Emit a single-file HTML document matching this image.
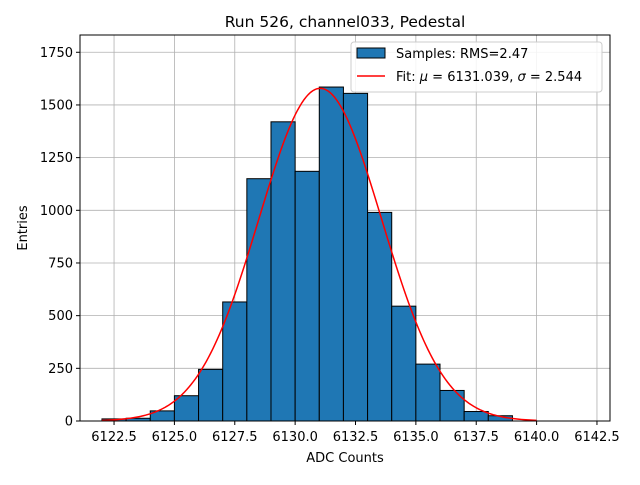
<!DOCTYPE html>
<html><head><meta charset="utf-8"><style>
body{margin:0;background:#fff;font-family:"Liberation Sans","DejaVu Sans",sans-serif}
svg text{font-family:"DejaVu Sans","Liberation Sans",sans-serif;font-size:13px;fill:#000}
</style></head><body>
<svg id="c" width="640" height="480"></svg>
<script>
const binStarts=[6122,6123,6124,6125,6126,6127,6128,6129,6130,6131,6132,6133,6134,6135,6136,6137,6138];
const counts=[10,13,48,120,245,565,1150,1420,1185,1585,1555,990,545,270,145,45,25];
const xTicks=[6122.5,6125.0,6127.5,6130.0,6132.5,6135.0,6137.5,6140.0,6142.5];
const yTicks=[0,250,500,750,1000,1250,1500,1750];
const fitMu=6131.039, fitSigma=2.544, fitAmp=1579;
const ns="http://www.w3.org/2000/svg";
const svg=document.getElementById('c');
const L=80,R=610,T=35,B=421;
const xMin=6121.09,xMax=6143.04,yMax=1832;
const X=v=>L+(v-xMin)/(xMax-xMin)*(R-L);
const Y=v=>B-v/yMax*(B-T);
function el(t,a,p){const e=document.createElementNS(ns,t);for(const k in a)e.setAttribute(k,a[k]);(p||svg).appendChild(e);return e;}
const grid=el('g',{});


xTicks.forEach(t=>{el('line',{x1:X(t),x2:X(t),y1:T,y2:B,stroke:'#b0b0b0','stroke-width':0.8},grid);});
yTicks.forEach(t=>{el('line',{x1:L,x2:R,y1:Y(t),y2:Y(t),stroke:'#b0b0b0','stroke-width':0.8},grid);});
const bars=el('g',{});


binStarts.forEach((b,i)=>{const r=el('rect',{x:X(b),y:Y(counts[i]),width:X(b+1)-X(b),height:B-Y(counts[i]),fill:'#1f77b4',stroke:'#000','stroke-width':1},bars);

});
let d='';for(let i=0;i<=200;i++){const v=6122+18*i/200;const y=fitAmp*Math.exp(-0.5*((v-fitMu)/fitSigma)**2);d+=(i?'L':'M')+X(v).toFixed(2)+','+Y(y).toFixed(2);}
const fit=el('path',{d:d,fill:'none',stroke:'red','stroke-width':1.5});


el('rect',{x:L,y:T,width:R-L,height:B-T,fill:'none',stroke:'#000','stroke-width':1});
xTicks.forEach(t=>{el('line',{x1:X(t),x2:X(t),y1:B,y2:B+4,stroke:'#000'});const tx=el('text',{x:X(t),y:B+20,'text-anchor':'middle'});tx.textContent=t.toFixed(1);

});
yTicks.forEach(t=>{el('line',{x1:L-4,x2:L,y1:Y(t),y2:Y(t),stroke:'#000'});const tx=el('text',{x:L-7,y:Y(t)+4.5,'text-anchor':'end'});tx.textContent=t;

});
</script>
<svg style="position:absolute;left:0;top:0" width="640" height="480">
<text x="345" y="27" text-anchor="middle" style="font-size:15.5px">Run 526, channel033, Pedestal</text>
<text x="345" y="462" text-anchor="middle">ADC Counts</text>
<text x="27" y="228" text-anchor="middle" transform="rotate(-90 27 228)">Entries</text>
<g>
<rect x="351" y="42" width="251" height="50" rx="3" fill="#fff" fill-opacity="0.85" stroke="#ccc"/>
<rect x="357" y="48" width="28" height="10" fill="#1f77b4" stroke="#000"/>
<text x="396" y="58">Samples: RMS=2.47</text>
<line x1="357" y1="76" x2="385" y2="76" stroke="red" stroke-width="1.5"/>
<text x="396" y="81">Fit: <tspan font-style="italic">μ</tspan> = 6131.039, <tspan font-style="italic">σ</tspan> = 2.544</text>
</g>
</svg>
</body></html>
